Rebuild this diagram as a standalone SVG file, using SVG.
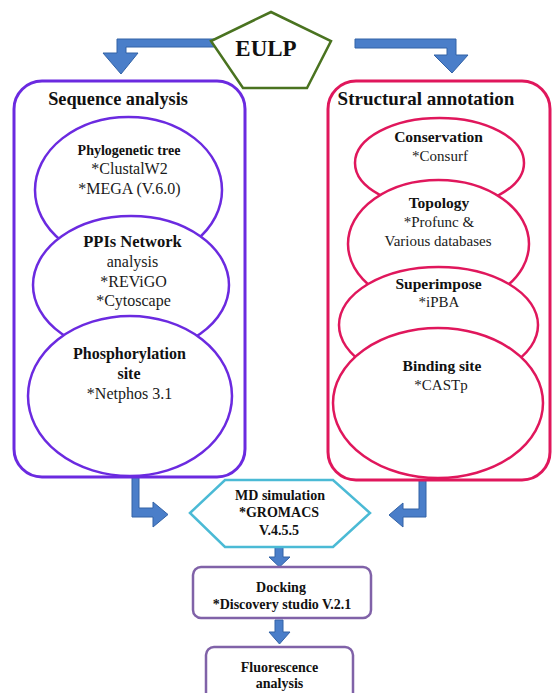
<svg xmlns="http://www.w3.org/2000/svg" width="552" height="693" viewBox="0 0 552 693">
<style>
text{font-family:"Liberation Serif","Times New Roman",serif;text-anchor:middle;fill:#1a1a1a}
.b{font-weight:bold;fill:#111}
.arr{fill:#4a7ec9;stroke:#3262a6;stroke-width:1}
.lp{fill:#fff;stroke:#6b2ae0;stroke-width:2.5}
.rp{fill:#fff;stroke:#e0175c;stroke-width:2.5}
.box{fill:#fff;stroke:#8062a8;stroke-width:2.5}
</style>
<rect width="552" height="693" fill="#fff"/>
<g id="connectors">
<polygon class="arr" points="217,39 117,39 117,53 103,53 121,74 138,53 126,53 126,47 217,47"/>
<polygon class="arr" points="355,39 456,39 456,55 468,55 452,73 434,55 447,55 447,48 355,48"/>
<polygon class="arr" points="132,477 139,477 139,508 153,508 153,502 168,514.5 153,527 153,517 132,517"/>
<polygon class="arr" points="419,480 426,480 426,517 403,517 403,527 389,515 403,503 403,509 419,509"/>
<polygon class="arr" points="275,547 283,547 283,557 290,557 279.5,567 269,557 275,557"/>
<polygon class="arr" points="275,620 283,620 283,632 290,632 279.5,644 269,632 275,632"/>
</g>
<g id="eulp">
<polygon points="271,12 331,41 307,88 243,88 211,41" fill="#fff" stroke="#4a7320" stroke-width="2.5"/>
<text class="b" x="266" y="56" font-size="23">EULP</text>
</g>
<g id="sequence-analysis">
<rect x="14" y="81" width="231" height="396" rx="28" fill="#fff" stroke="#6b2ae0" stroke-width="3"/>
<text class="b" x="118" y="105" font-size="18.3">Sequence analysis</text>
</g>
<g id="phylogenetic-tree">
<ellipse class="lp" cx="128.5" cy="190" rx="93.5" ry="73"/>
<text class="b" x="129" y="155" font-size="14">Phylogenetic tree</text>
<text x="129.5" y="174" font-size="16">*ClustalW2</text>
<text x="129.5" y="194" font-size="16">*MEGA (V.6.0)</text>
</g>
<g id="ppis-network">
<ellipse class="lp" cx="131" cy="285" rx="98" ry="69"/>
<text class="b" x="132.5" y="247" font-size="16.5">PPIs Network</text>
<text x="132.5" y="267" font-size="16">analysis</text>
<text x="133.5" y="287" font-size="16">*REViGO</text>
<text x="133.5" y="306" font-size="16">*Cytoscape</text>
</g>
<g id="phosphorylation-site">
<ellipse class="lp" cx="130" cy="396" rx="102" ry="80"/>
<text class="b" x="129.5" y="359" font-size="16">Phosphorylation</text>
<text class="b" x="129" y="379" font-size="16">site</text>
<text x="129.5" y="399" font-size="16">*Netphos 3.1</text>
</g>
<g id="structural-annotation">
<rect x="328" y="81" width="222" height="399" rx="28" fill="#fff" stroke="#e0175c" stroke-width="3"/>
<text class="b" x="426" y="105" font-size="19">Structural annotation</text>
</g>
<g id="conservation">
<ellipse class="rp" cx="439.5" cy="163" rx="84.5" ry="45"/>
<text class="b" x="438.5" y="142" font-size="15.5">Conservation</text>
<text x="440" y="161" font-size="15">*Consurf</text>
</g>
<g id="topology">
<ellipse class="rp" cx="438.5" cy="244" rx="90.5" ry="64"/>
<text class="b" x="439" y="208" font-size="15.5">Topology</text>
<text x="439" y="227" font-size="15">*Profunc &amp;</text>
<text x="438" y="246" font-size="15">Various databases</text>
</g>
<g id="superimpose">
<ellipse class="rp" cx="438.5" cy="325" rx="99.5" ry="58"/>
<text class="b" x="438.5" y="289" font-size="15.5">Superimpose</text>
<text x="439" y="307" font-size="15">*iPBA</text>
</g>
<g id="binding-site">
<ellipse class="rp" cx="438" cy="403" rx="105" ry="75"/>
<text class="b" x="442" y="371" font-size="15.5">Binding site</text>
<text x="441" y="390" font-size="15">*CASTp</text>
</g>
<g id="md-simulation">
<polygon points="190,513 225,480 333,480 370,513 333,547 225,547" fill="#fff" stroke="#4bbad5" stroke-width="2.5"/>
<text class="b" x="280" y="500" font-size="14">MD simulation</text>
<text class="b" x="279" y="517" font-size="14">*GROMACS</text>
<text class="b" x="279" y="535" font-size="14">V.4.5.5</text>
</g>
<g id="docking">
<rect class="box" x="193" y="567" width="178" height="51" rx="8"/>
<text class="b" x="281" y="592" font-size="14">Docking</text>
<text class="b" x="282" y="609" font-size="14">*Discovery studio V.2.1</text>
</g>
<g id="fluorescence">
<rect class="box" x="206" y="647" width="147" height="56" rx="8"/>
<text class="b" x="279.5" y="672" font-size="14">Fluorescence</text>
<text class="b" x="279.5" y="688" font-size="14">analysis</text>
</g>
</svg>
